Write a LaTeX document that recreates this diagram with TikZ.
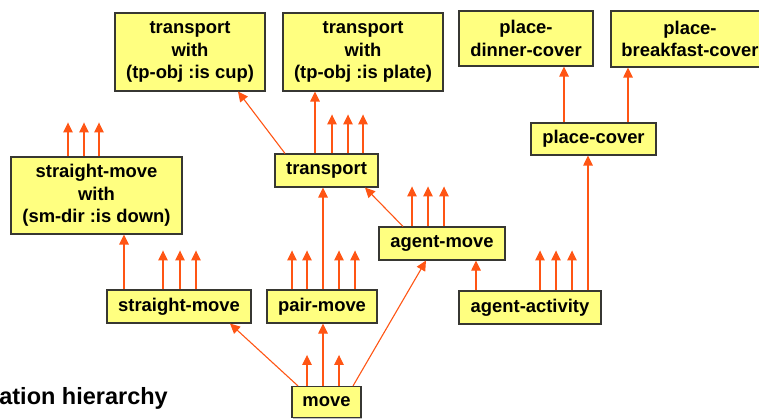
\documentclass[tikz,border=0pt]{standalone}
\usepackage{fontspec}
\setmainfont{Liberation Sans}
\usetikzlibrary{arrows.meta,shadows}
\definecolor{boxfill}{RGB}{255,255,128}
\definecolor{boxline}{RGB}{55,55,50}
\definecolor{arrcol}{RGB}{255,85,20}
\begin{document}
\begin{tikzpicture}[x=1pt,y=-1pt,
  cls/.style={draw=boxline,line width=1.1pt,fill=boxfill,inner sep=0pt,align=center,
    font=\fontsize{18.4}{22.3}\selectfont\bfseries,
    drop shadow={shadow xshift=1.2pt,shadow yshift=-1.2pt,fill=black,opacity=0.25}},
  arr/.style={draw=arrcol,line width=1.1pt,-{Triangle[length=10pt,width=9.5pt]}}]
\useasboundingbox (0,0) rectangle (759,419);

% nodes
\node[cls,minimum width=150,minimum height=78] (tpcup) at (190,52) {transport\\with\\(tp-obj :is cup)};
\node[cls,minimum width=160,minimum height=78] (tpplate) at (363,52) {transport\\with\\(tp-obj :is plate)};
\node[cls,minimum width=134,minimum height=55] (dinner) at (526,38.5) {place-\\dinner-cover};
\node[cls,minimum width=158,minimum height=56] (breakfast) at (690,39) {place-\\breakfast-cover};
\node[cls,minimum width=125,minimum height=32] (placecover) at (593.5,139) {place-cover};
\node[cls,minimum width=103,minimum height=33] (transport) at (326.5,170.5) {transport};
\node[cls,minimum width=171,minimum height=77] (smwith) at (96.5,195.5) {straight-move\\with\\(sm-dir :is down)};
\node[cls,minimum width=144,minimum height=33] (straightmove) at (179,306.5) {straight-move};
\node[cls,minimum width=110,minimum height=33] (pairmove) at (322,306.5) {pair-move};
\node[cls,minimum width=69,minimum height=31] (move) at (326.5,402) {move};
\node[cls,minimum width=126,minimum height=33] (agentmove) at (442,243.5) {agent-move};
\node[cls,minimum width=142,minimum height=33] (agentactivity) at (530,307.5) {agent-activity};

\node[anchor=base east,inner sep=0pt,font=\fontsize{23.5}{26}\selectfont\bfseries] (title) at (168,404) {ation hierarchy};

% x reference coordinates
\foreach \xx in {68,84,99,124,163,180,196,230,238,285,292,298,307,315,323,332,339,348,353,355,363,365,403,412,426,428,444,476,540,556,564,572,588,628}
  \coordinate (x\xx) at (\xx,0);

% connectors
\draw[arr] (transport.north -| x285) -- (tpcup.south -| x238);
\draw[arr] (transport.north -| x315) -- (tpplate.south -| x315);
\draw[arr] (placecover.north -| x564) -- (dinner.south -| x564);
\draw[arr] (placecover.north -| x628) -- (breakfast.south -| x628);
\draw[arr] (agentactivity.north -| x588) -- (placecover.south -| x588);
\draw[arr] (agentactivity.north -| x476) -- (agentmove.south -| x476);
\draw[arr] (agentmove.north -| x403) -- (transport.south -| x365);
\draw[arr] (pairmove.north -| x323) -- (transport.south -| x323);
\draw[arr] (straightmove.north -| x124) -- (smwith.south -| x124);
\draw[arr] (move.north -| x298) -- (straightmove.south -| x230);
\draw[arr] (move.north -| x323) -- (pairmove.south -| x323);
\draw[arr] (move.north -| x353) -- (agentmove.south -| x426);

% open-ended stubs
\foreach \xx in {332,348,363} \draw[arr] (transport.north -| x\xx) -- ++(0,-39);
\foreach \xx in {68,84,99} \draw[arr] (smwith.north -| x\xx) -- ++(0,-34);
\foreach \xx in {163,180,196} \draw[arr] (straightmove.north -| x\xx) -- ++(0,-39);
\foreach \xx in {292,307,339,355} \draw[arr] (pairmove.north -| x\xx) -- ++(0,-39);
\foreach \xx in {307,339} \draw[arr] (move.north -| x\xx) -- ++(0,-31);
\foreach \xx in {412,428,444} \draw[arr] (agentmove.north -| x\xx) -- ++(0,-40);
\foreach \xx in {540,556,572} \draw[arr] (agentactivity.north -| x\xx) -- ++(0,-40);
\end{tikzpicture}
\end{document}
